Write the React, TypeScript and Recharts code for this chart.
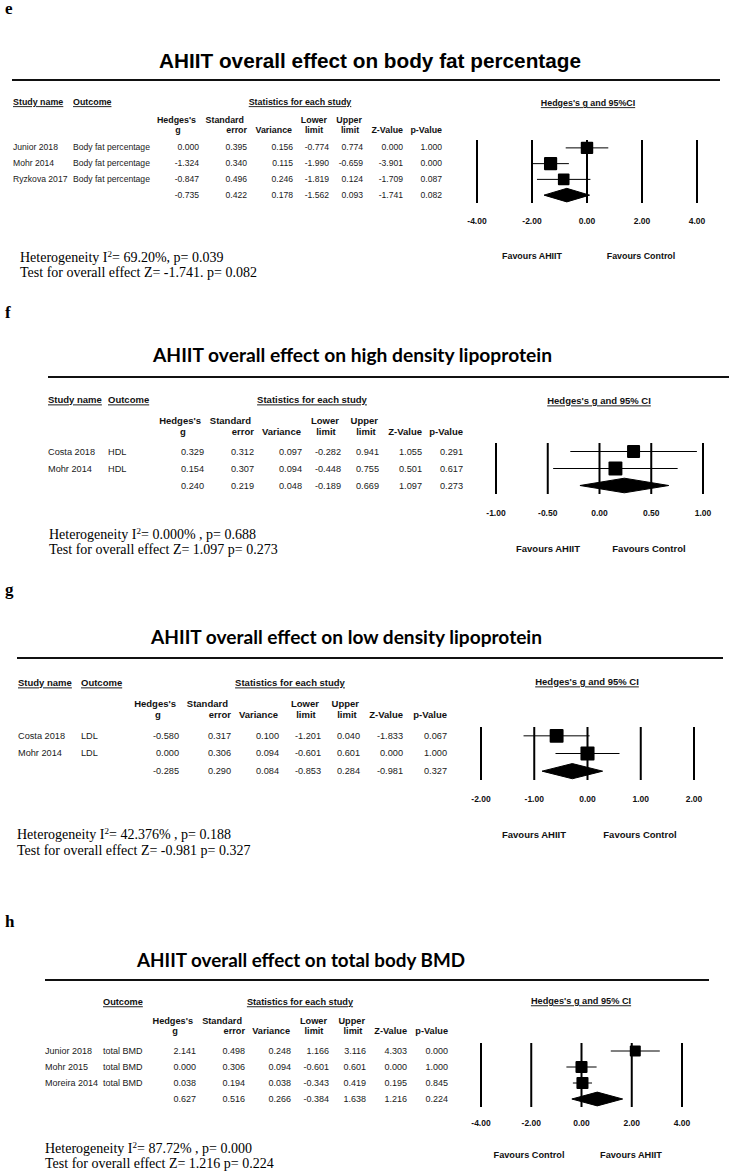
import React from "react";
import { ComposedChart, Scatter, Area, XAxis, YAxis, ReferenceLine, ErrorBar } from "recharts";

const SANS = "'Liberation Sans', Arial, sans-serif";
const SERIF = "'Liberation Serif', 'Times New Roman', serif";
const CALIBRI = "Lato, 'Open Sans', sans-serif";

// e - body fat percentage (last value of each column = overall)
const studiesE = ["Junior 2018", "Mohr 2014", "Ryzkova 2017"];
const outcomesE = ["Body fat percentage", "Body fat percentage", "Body fat percentage"];
const gE = [0.0, -1.324, -0.847, -0.735];
const seE = [0.395, 0.34, 0.496, 0.422];
const varE = [0.156, 0.115, 0.246, 0.178];
const loE = [-0.774, -1.99, -1.819, -1.562];
const hiE = [0.774, -0.659, 0.124, 0.093];
const zE = [0.0, -3.901, -1.709, -1.741];
const pE = [1.0, 0.0, 0.087, 0.082];
const weightsE = [32, 36, 28];
const ticksE = [-4, -2, 0, 2, 4];

// f - HDL
const studiesF = ["Costa 2018", "Mohr 2014"];
const outcomesF = ["HDL", "HDL"];
const gF = [0.329, 0.154, 0.24];
const seF = [0.312, 0.307, 0.219];
const varF = [0.097, 0.094, 0.048];
const loF = [-0.282, -0.448, -0.189];
const hiF = [0.941, 0.755, 0.669];
const zF = [1.055, 0.501, 1.097];
const pF = [0.291, 0.617, 0.273];
const weightsF = [35, 40];
const ticksF = [-1, -0.5, 0, 0.5, 1];

// g - LDL
const studiesG = ["Costa 2018", "Mohr 2014"];
const outcomesG = ["LDL", "LDL"];
const gG = [-0.58, 0.0, -0.285];
const seG = [0.317, 0.306, 0.29];
const varG = [0.1, 0.094, 0.084];
const loG = [-1.201, -0.601, -0.853];
const hiG = [0.04, 0.601, 0.284];
const zG = [-1.833, 0.0, -0.981];
const pG = [0.067, 1.0, 0.327];
const weightsG = [40, 41];
const ticksG = [-2, -1, 0, 1, 2];

// h - total body BMD
const studiesH = ["Junior 2018", "Mohr 2015", "Moreira 2014"];
const outcomesH = ["total BMD", "total BMD", "total BMD"];
const gH = [2.141, 0.0, 0.038, 0.627];
const seH = [0.498, 0.306, 0.194, 0.516];
const varH = [0.248, 0.094, 0.038, 0.266];
const loH = [1.166, -0.601, -0.343, -0.384];
const hiH = [3.116, 0.601, 0.419, 1.638];
const zH = [4.303, 0.0, 0.195, 1.216];
const pH = [0.0, 1.0, 0.845, 0.224];
const weightsH = [25, 30, 30];
const ticksH = [-4, -2, 0, 2, 4];

const HEAD = [
  { l1: "Hedges's", l2: "g", d1: -3, d2: -21, a2: "middle" },
  { l1: "Standard", l2: "error", d1: -3, d2: 0, a2: "end" },
  { l1: "", l2: "Variance", d1: 0, d2: -1, a2: "end" },
  { l1: "Lower", l2: "limit", d1: -2, d2: -15, a2: "middle" },
  { l1: "Upper", l2: "limit", d1: -1, d2: -13, a2: "middle" },
  { l1: "", l2: "Z-Value", d1: 0, d2: 0, a2: "end" },
  { l1: "", l2: "p-Value", d1: 0, d2: 0, a2: "end" },
];

const panels = [
  {
    letter: "e", letterY: 14,
    title: "AHIIT overall effect on body fat percentage", titleFont: SANS, titleSize: 20, titleX: 159, titleY: 68, titleW: 422,
    rule: [12, 720, 80],
    headY: 102, studyHeadX: 13, outcomeHeadX: 73, statsX: 300,
    colY: [120, 130], colR: [199, 247, 293, 329, 363, 403, 442],
    rowY: [147, 163, 179, 195], nameX: 13, outX: 73, fs: 8.6, hfs: 8.9,
    het: ["69.20%, p= 0.039", "Test for overall effect Z= -1.741. p= 0.082"], hetX: 20, hetY: [262, 277],
    ciHead: "Hedges's g and 95%CI", ciX: 588, ciY: 103,
    favours: [["Favours AHIIT", 532], ["Favours Control", 641]], favY: 256,
    names: studiesE, outcomes: outcomesE, cols: [gE, seE, varE, loE, hiE, zE, pE],
    plot: { x0: 477, x1: 697, y0: 140, y1: 203, off: 21, ticks: ticksE, weights: weightsE },
  },
  {
    letter: "f", letterY: 318,
    title: "AHIIT overall effect on high density lipoprotein", titleFont: CALIBRI, titleSize: 19.5, titleX: 153, titleY: 362, titleW: 399,
    rule: [48, 729, 377],
    headY: 400, studyHeadX: 48, outcomeHeadX: 108, statsX: 312,
    colY: [421, 432], colR: [204, 254, 302, 341, 379, 422, 463],
    rowY: [452, 469, 486], nameX: 48, outX: 108, fs: 9.2, hfs: 9.5,
    het: ["0.000% , p= 0.688", "Test for overall effect Z= 1.097 p= 0.273"], hetX: 49, hetY: [539, 554],
    ciHead: "Hedges's g and 95%  CI", ciX: 599, ciY: 401,
    favours: [["Favours AHIIT", 548], ["Favours Control", 649]], favY: 549,
    names: studiesF, outcomes: outcomesF, cols: [gF, seF, varF, loF, hiF, zF, pF],
    plot: { x0: 496, x1: 703, y0: 443, y1: 494, off: 22, ticks: ticksF, weights: weightsF },
  },
  {
    letter: "g", letterY: 595,
    title: "AHIIT overall effect on low density lipoprotein", titleFont: CALIBRI, titleSize: 19.5, titleX: 151, titleY: 644, titleW: 391,
    rule: [17, 723, 658],
    headY: 683, studyHeadX: 18, outcomeHeadX: 81, statsX: 290,
    colY: [704, 715], colR: [179, 231, 279, 321, 360, 403, 447],
    rowY: [736, 753, 771], nameX: 18, outX: 81, fs: 9.2, hfs: 9.5,
    het: ["42.376% , p= 0.188", "Test for overall effect Z= -0.981 p= 0.327"], hetX: 17, hetY: [839, 855],
    ciHead: "Hedges's g and 95%  CI", ciX: 587, ciY: 682,
    favours: [["Favours AHIIT", 534], ["Favours Control", 640]], favY: 835,
    names: studiesG, outcomes: outcomesG, cols: [gG, seG, varG, loG, hiG, zG, pG],
    plot: { x0: 481, x1: 694, y0: 727, y1: 780, off: 22, ticks: ticksG, weights: weightsG },
  },
  {
    letter: "h", letterY: 927,
    title: "AHIIT overall effect on total body BMD", titleFont: CALIBRI, titleSize: 19.5, titleX: 137, titleY: 967, titleW: 328,
    rule: [45, 709, 980],
    headY: 1002, studyHeadX: null, outcomeHeadX: 103, statsX: 300,
    colY: [1021, 1031], colR: [196, 245, 291, 329, 366, 407, 448],
    rowY: [1051, 1067, 1083, 1099], nameX: 45, outX: 103, fs: 9, hfs: 9.2,
    het: ["87.72% , p= 0.000", "Test for overall effect Z= 1.216 p= 0.224"], hetX: 45, hetY: [1153, 1168],
    ciHead: "Hedges's g and 95%  CI", ciX: 581, ciY: 1001,
    favours: [["Favours Control", 529], ["Favours AHIIT", 631]], favY: 1155,
    names: studiesH, outcomes: outcomesH, cols: [gH, seH, varH, loH, hiH, zH, pH],
    plot: { x0: 481, x1: 682, y0: 1043, y1: 1107, off: 19, ticks: ticksH, weights: weightsH },
  },
];

const XTick = (props: any) => {
  const { x, y, payload, off } = props;
  return (
    <text x={x} y={y + off} textAnchor="middle" fontFamily={SANS} fontSize={8.5} fontWeight="bold" fill="#111">
      {Number(payload.value).toFixed(2)}
    </text>
  );
};

const square = (props: any) => {
  const { cx, cy, payload } = props;
  const s = Math.sqrt(payload.w) * 2.2;
  return <rect x={cx - s / 2} y={cy - s / 2} width={s} height={s} rx={1} fill="#000" />;
};

function ForestPlot({ p }: { p: any }) {
  const est = p.cols[0];
  const lo = p.cols[3];
  const hi = p.cols[4];
  const n = est.length - 1;
  const { x0, x1, y0, y1, off, ticks, weights } = p.plot;
  const studies = est.slice(0, n).map((g: number, i: number) => ({
    x: g,
    y: i,
    err: [g - lo[i], hi[i] - g],
    w: weights[i],
  }));
  const dh = 0.43;
  const diamond = [
    { x: lo[n], band: [n, n] },
    { x: est[n], band: [n - dh, n + dh] },
    { x: hi[n], band: [n, n] },
  ];
  const padX = 24;
  const padTop = 4;
  const axisH = 30;
  const width = x1 - x0 + 2 * padX;
  const height = y1 - y0 + padTop + axisH;
  return (
    <div style={{ position: "absolute", left: x0 - padX, top: y0 - padTop }}>
      <ComposedChart width={width} height={height} data={diamond} margin={{ top: padTop, right: padX, bottom: 0, left: padX }}>
        <XAxis
          type="number"
          dataKey="x"
          domain={[ticks[0], ticks[ticks.length - 1]]}
          ticks={ticks}
          interval={0}
          allowDataOverflow
          axisLine={false}
          tickLine={false}
          tickSize={0}
          tickMargin={0}
          height={axisH}
          tick={<XTick off={off} />}
        />
        <YAxis type="number" domain={[-0.5, n + 0.5]} reversed hide width={0} allowDataOverflow />
        {ticks.map((t: number) => (
          <ReferenceLine key={t} x={t} stroke="#000" strokeWidth={2} />
        ))}
        <Area
          type="linear"
          dataKey="band"
          stroke="#000"
          strokeWidth={1}
          fill="#000"
          fillOpacity={1}
          dot={false}
          activeDot={false}
          isAnimationActive={false}
        />
        <Scatter data={studies} dataKey="y" shape={square} isAnimationActive={false}>
          <ErrorBar dataKey="err" direction="x" width={0} stroke="#000" strokeWidth={1} />
        </Scatter>
      </ComposedChart>
    </div>
  );
}

function PanelText({ p }: { p: any }) {
  const b = (c: number, fs: number) => c + fs * 0.36;
  const ul = { textDecoration: "underline" } as React.CSSProperties;
  const rows = p.rowY.length;
  return (
    <g>
      <text x={5} y={p.letterY} fontFamily={SERIF} fontWeight="bold" fontSize={17} fill="#000">{p.letter}</text>
      <text x={p.titleX} y={p.titleY} fontFamily={p.titleFont} fontWeight="bold" fontSize={p.titleSize} fill="#000"
        textLength={p.titleW} lengthAdjust="spacingAndGlyphs">{p.title}</text>
      <line x1={p.rule[0]} x2={p.rule[1]} y1={p.rule[2]} y2={p.rule[2]} stroke="#111" strokeWidth={2} />
      <g fontFamily={SANS} fontWeight="bold" fontSize={p.hfs} fill="#111">
        {p.studyHeadX !== null && <text x={p.studyHeadX} y={b(p.headY, p.hfs)} style={ul}>Study name</text>}
        <text x={p.outcomeHeadX} y={b(p.headY, p.hfs)} style={ul}>Outcome</text>
        <text x={p.statsX} y={b(p.headY, p.hfs)} textAnchor="middle" style={ul}>Statistics for each study</text>
        <text x={p.ciX} y={b(p.ciY, p.hfs)} textAnchor="middle" style={ul}>{p.ciHead}</text>
        {HEAD.map((h, i) => (
          <g key={i}>
            {h.l1 && <text x={p.colR[i] + h.d1} y={b(p.colY[0], p.hfs)} textAnchor="end">{h.l1}</text>}
            <text x={p.colR[i] + h.d2} y={b(p.colY[1], p.hfs)} textAnchor={h.a2}>{h.l2}</text>
          </g>
        ))}
        {p.favours.map((f: any) => (
          <text key={f[0]} x={f[1]} y={b(p.favY, p.hfs)} textAnchor="middle">{f[0]}</text>
        ))}
      </g>
      <g fontFamily={SANS} fontSize={p.fs} fill="#1a1a1a">
        {p.names.map((nm: string, i: number) => (
          <g key={nm}>
            <text x={p.nameX} y={b(p.rowY[i], p.fs)}>{nm}</text>
            <text x={p.outX} y={b(p.rowY[i], p.fs)}>{p.outcomes[i]}</text>
          </g>
        ))}
        {p.cols.map((col: number[], c: number) =>
          col.slice(0, rows).map((v: number, r: number) => (
            <text key={c + "-" + r} x={p.colR[c]} y={b(p.rowY[r], p.fs)} textAnchor="end">{v.toFixed(3)}</text>
          ))
        )}
      </g>
      <g fontFamily={SERIF} fontSize={14} fill="#000">
        <text x={p.hetX} y={p.hetY[0]}>
          Heterogeneity I<tspan fontSize={9} dy={-5}>2</tspan><tspan dy={5}>= {p.het[0]}</tspan>
        </text>
        <text x={p.hetX} y={p.hetY[1]}>{p.het[1]}</text>
      </g>
    </g>
  );
}

export default function App() {
  return (
    <div style={{ position: "absolute", left: 0, top: 0, width: 733, height: 1173, background: "#fff" }}>
      <svg width={733} height={1173} style={{ position: "absolute", left: 0, top: 0 }}>
        {panels.map((p) => (
          <PanelText key={p.letter} p={p} />
        ))}
      </svg>
      {panels.map((p) => (
        <ForestPlot key={p.letter} p={p} />
      ))}
    </div>
  );
}
